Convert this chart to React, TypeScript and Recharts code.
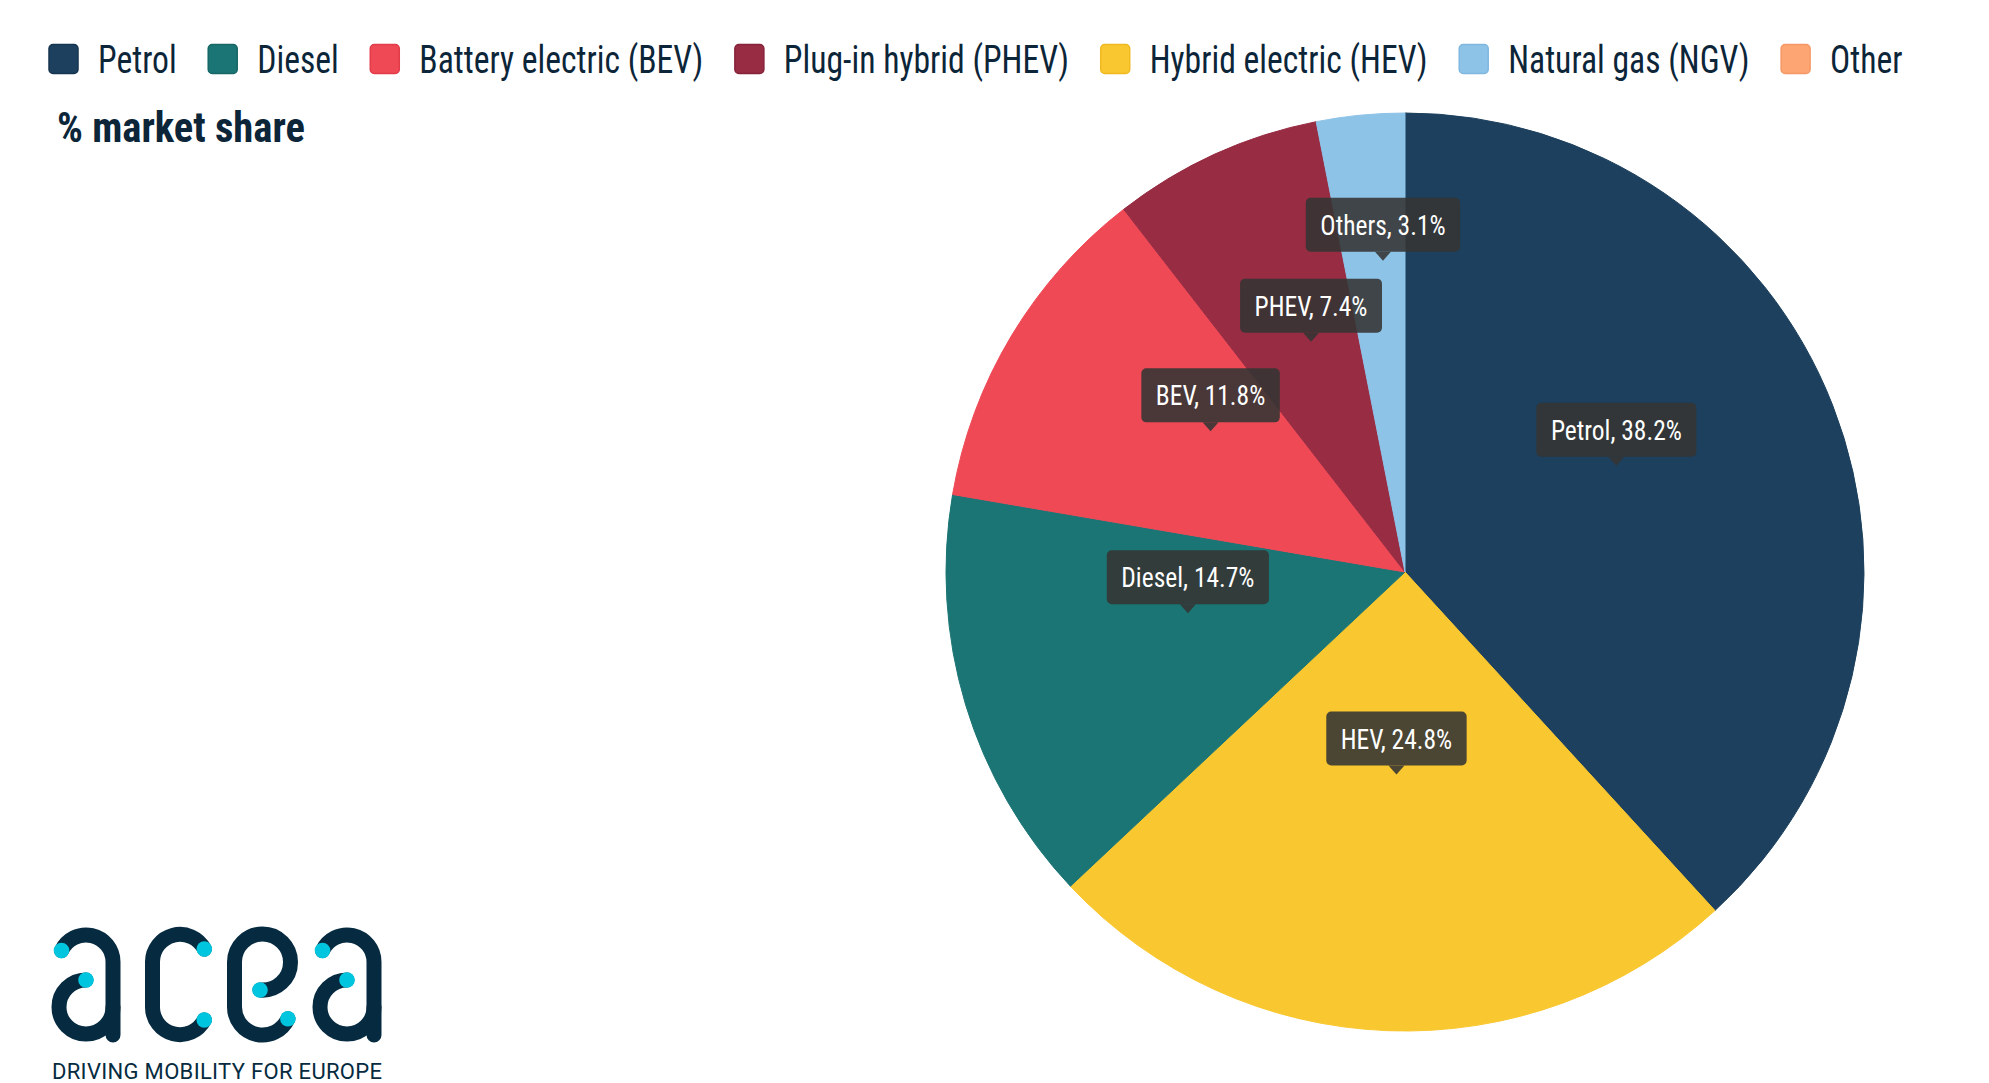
import React from "react"
import { Cell, Pie, PieChart } from "recharts"

// slices, clockwise from 12 o'clock
const categories = ["Petrol", "HEV", "Diesel", "BEV", "PHEV", "Others"]
const shares = [38.2, 24.8, 14.7, 11.8, 7.4, 3.1]

// legend items as listed in the header
const legendKeys = ["petrol", "diesel", "bev", "phev", "hev", "ngv", "other"]
const legendLabels = [
  "Petrol",
  "Diesel",
  "Battery electric (BEV)",
  "Plug-in hybrid (PHEV)",
  "Hybrid electric (HEV)",
  "Natural gas (NGV)",
  "Other",
]
const sliceKeys = ["petrol", "hev", "diesel", "bev", "phev", "ngv"]

const colorMap: Record<string, string> = {
  petrol: "#1c405d",
  diesel: "#1b7574",
  bev: "#ef4956",
  phev: "#972c43",
  hev: "#f9c72f",
  ngv: "#8ec3e8",
  other: "#fea574",
}
const borderMap: Record<string, string> = {
  petrol: "#163550",
  diesel: "#166766",
  bev: "#e23c4a",
  phev: "#86223a",
  hev: "#f0b922",
  ngv: "#7fb7df",
  other: "#f49866",
}

const W = 1989
const H = 1083
const CX = 1405
const CY = 572
const R = 459
const INK = "#0c2538"
const LOGO_DARK = "#062b40"
const LOGO_DOT = "#00c5de"

const canvas = typeof document !== "undefined" ? document.createElement("canvas") : null
const measure = (text: string, font: string) => {
  const ctx = canvas?.getContext("2d")
  if (!ctx) return text.length * 18
  ctx.font = font
  return ctx.measureText(text).width
}

// prefer a real condensed face, otherwise squeeze Roboto to the same width
const hasCondensed =
  Math.abs(measure("Petrol Diesel", "40px monospace") - measure("Petrol Diesel", '40px "Roboto Condensed", monospace')) > 1
const FAMILY = hasCondensed ? '"Roboto Condensed", Roboto' : "Roboto"
const LEGEND_FONT = `400 38px ${FAMILY}`
const TITLE_FONT = `700 42px ${FAMILY}`
const LABEL_FONT = `400 28px ${FAMILY}`
const SQ = 278 / measure("Hybrid electric (HEV)", LEGEND_FONT)
const SQ_TITLE = 248 / measure("% market share", TITLE_FONT)
const SQ_LABEL = 131 / measure("Petrol, 38.2%", LABEL_FONT)

const LABEL_R = 0.494
const TIP_LIFT = 24
const BOX_H = 54
const PTR = 9

const labelText = (i: number) => `${categories[i]}, ${shares[i].toFixed(1)}%`
const labelWidth = (i: number) => measure(labelText(i), LABEL_FONT) * SQ_LABEL + 29

// push labels up when their boxes would overlap an earlier one
function layoutLabels() {
  const total = shares.reduce((a, b) => a + b, 0)
  let cum = 0
  const boxes: { x0: number; x1: number; top: number; bottom: number }[] = []
  const shifts: number[] = []
  shares.forEach((v, i) => {
    const mid = ((90 - (360 * (cum + v / 2)) / total) * Math.PI) / 180
    cum += v
    const ax = CX + R * LABEL_R * Math.cos(mid)
    const ay = CY - R * LABEL_R * Math.sin(mid)
    const w = labelWidth(i)
    let bottom = ay - TIP_LIFT - PTR
    const x0 = ax - w / 2
    const x1 = ax + w / 2
    let moved = true
    while (moved) {
      moved = false
      for (const b of boxes) {
        if (x0 < b.x1 && x1 > b.x0 && bottom > b.top && bottom - BOX_H < b.bottom) {
          bottom = b.top - 27
          moved = true
        }
      }
    }
    shifts.push(bottom - (ay - TIP_LIFT - PTR))
    boxes.push({ x0, x1, top: bottom - BOX_H, bottom })
  })
  return shifts
}

const shifts = layoutLabels()

const renderLabel = (props: any) => {
  const { cx, cy, midAngle, outerRadius, index } = props
  const RADIAN = Math.PI / 180
  const r = outerRadius * LABEL_R
  const x = cx + r * Math.cos(-midAngle * RADIAN)
  const tip = cy + r * Math.sin(-midAngle * RADIAN) - TIP_LIFT + (shifts[index] || 0)
  const w = labelWidth(index)
  const bottom = tip - PTR
  const top = bottom - BOX_H
  const fill = "rgba(53,53,52,0.89)"
  return (
    <g key={`lbl-${index}`}>
      <rect x={x - w / 2} y={top} width={w} height={BOX_H} rx={5} fill={fill} />
      <path d={`M${x - 8},${bottom} L${x + 8},${bottom} L${x},${tip} Z`} fill={fill} />
      <text
        transform={`translate(${x},${top + 37}) scale(${SQ_LABEL},1)`}
        textAnchor="middle"
        fill="#ffffff"
        style={{ font: LABEL_FONT }}
      >
        {labelText(index)}
      </text>
    </g>
  )
}

function Legend() {
  let x = 49
  const items = legendLabels.map((label, i) => {
    const tw = measure(label, LEGEND_FONT) * SQ
    const key = legendKeys[i]
    const el = (
      <g key={key}>
        <rect x={x} y={44.5} width={29} height={29} rx={4} fill={colorMap[key]} stroke={borderMap[key]} strokeWidth={1.5} />
        <text transform={`translate(${x + 49},73) scale(${SQ},1)`} fill={INK} style={{ font: LEGEND_FONT }}>
          {label}
        </text>
      </g>
    )
    x += 49 + tw + 31.5
    return el
  })
  return <g>{items}</g>
}

function Logo() {
  const stroke = { fill: "none", stroke: LOGO_DARK, strokeWidth: 15, strokeLinecap: "round" as const }
  const a = (dx: number) => (
    <g transform={`translate(${dx},0)`}>
      <path d="M61.5,950.6 A27,27 0 0 1 113,962 L113,1035" {...stroke} />
      <path d="M86,980 A27,27 0 1 0 113,1007" {...stroke} />
      <circle cx={61.5} cy={950.6} r={7.8} fill={LOGO_DOT} />
      <circle cx={86} cy={980} r={7.8} fill={LOGO_DOT} />
    </g>
  )
  return (
    <g>
      {a(0)}
      <path d="M204.3,949 A27.5,27.5 0 0 0 152.5,962 L152.5,1007 A27.5,27.5 0 0 0 204.3,1020" {...stroke} />
      <circle cx={204.3} cy={949} r={7.8} fill={LOGO_DOT} />
      <circle cx={204.3} cy={1020} r={7.8} fill={LOGO_DOT} />
      <path d="M260,990 A28,28 0 0 0 290.5,962 A28,28 0 0 0 234.5,962 L234.5,1007 A28,28 0 0 0 287.9,1018.8" {...stroke} />
      <circle cx={260} cy={990} r={7.8} fill={LOGO_DOT} />
      <circle cx={287.9} cy={1018.8} r={7.8} fill={LOGO_DOT} />
      {a(261)}
      <text
        x={52}
        y={1079}
        textLength={330}
        lengthAdjust="spacing"
        fill={LOGO_DARK}
        style={{ font: "400 22px Roboto" }}
      >
        DRIVING MOBILITY FOR EUROPE
      </text>
    </g>
  )
}

export default function App() {
  const data = categories.map((name, i) => ({ name, value: shares[i] }))
  return (
    <div style={{ position: "absolute", left: 0, top: 0, width: W, height: H, background: "#ffffff", overflow: "hidden" }}>
      <PieChart width={W} height={H} margin={{ top: 0, right: 0, bottom: 0, left: 0 }}>
        <Pie
          data={data}
          dataKey="value"
          nameKey="name"
          cx={CX}
          cy={CY}
          outerRadius={R}
          startAngle={90}
          endAngle={-270}
          labelLine={false}
          label={renderLabel}
          isAnimationActive={false}
        >
          {data.map((entry, i) => (
            <Cell key={`cell-${i}`} fill={colorMap[sliceKeys[i]]} stroke={colorMap[sliceKeys[i]]} strokeWidth={1} />
          ))}
        </Pie>
      </PieChart>
      <svg width={W} height={H} style={{ position: "absolute", left: 0, top: 0, pointerEvents: "none" }}>
        <Legend />
        <text
          transform={`translate(57,142) scale(${SQ_TITLE},1)`}
          fill={INK}
          style={{ font: TITLE_FONT }}
        >
          % market share
        </text>
        <Logo />
      </svg>
    </div>
  )
}
